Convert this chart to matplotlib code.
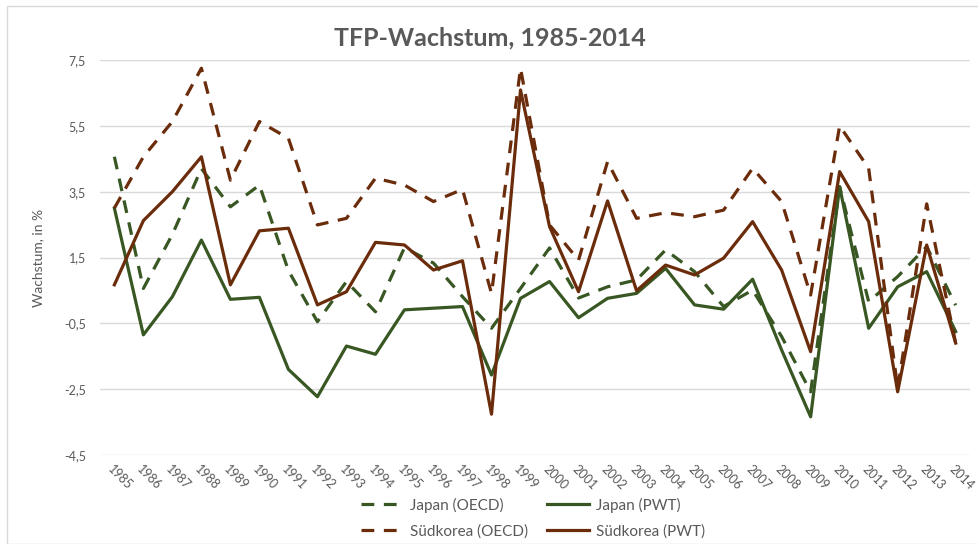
import matplotlib
matplotlib.use("Agg")

import matplotlib.pyplot as plt
from matplotlib.patches import Rectangle
from matplotlib.ticker import FuncFormatter

years = list(range(1985, 2015))

japan_oecd = [4.56, 0.56, 2.2, 4.2, 3.04, 3.7, 1.1, -0.45, 0.77, -0.15,
              1.8, 1.33, 0.31, -0.65, 0.56, 1.79, 0.27, 0.61, 0.82, 1.73,
              1.07, 0.01, 0.51, -0.9, -2.58, 3.65, 0.16, 0.92, 1.83, 0.05]
japan_pwt = [3.0, -0.85, 0.31, 2.03, 0.23, 0.29, -1.9, -2.73, -1.19, -1.44,
             -0.09, -0.04, 0.01, -2.07, 0.26, 0.77, -0.33, 0.26, 0.41, 1.17,
             0.06, -0.07, 0.84, -1.31, -3.34, 3.65, -0.65, 0.61, 1.07, -0.75]
korea_oecd = [3.0, 4.56, 5.63, 7.25, 3.85, 5.63, 5.12, 2.49, 2.69, 3.91,
              3.7, 3.2, 3.57, 0.41, 7.25, 2.49, 1.42, 4.41, 2.69, 2.86,
              2.74, 2.94, 4.21, 3.2, 0.36, 5.5, 4.21, -2.47, 3.13, -1.1]
korea_pwt = [0.67, 2.62, 3.5, 4.56, 0.67, 2.31, 2.39, 0.06, 0.46, 1.96,
             1.88, 1.12, 1.4, -3.26, 6.59, 2.44, 0.46, 3.22, 0.49, 1.27,
             0.97, 1.48, 2.59, 1.12, -1.36, 4.11, 2.59, -2.58, 1.88, -1.1]

GREEN = "#385723"
BROWN = "#6b2c0b"
GRAY = "#595959"

plt.rcParams["font.family"] = ["Lato", "DejaVu Sans"]

fig = plt.figure(figsize=(9.79, 5.44), dpi=100)
ax = fig.add_axes([0.102, 0.1636, 0.889, 0.7261])

# chart area border
fig.patches.append(Rectangle((7 / 979, 0), 1.0, 1 - 6 / 544, transform=fig.transFigure,
                             fill=False, edgecolor="#d9d9d9", linewidth=1.0))

x = list(range(len(years)))
dash = (0, (4, 3))
l1, = ax.plot(x, japan_oecd, color=GREEN, lw=2.3, linestyle=dash, label="Japan (OECD)")
l2, = ax.plot(x, japan_pwt, color=GREEN, lw=2.3, label="Japan (PWT)")
l3, = ax.plot(x, korea_oecd, color=BROWN, lw=2.3, linestyle=dash, label="Südkorea (OECD)")
l4, = ax.plot(x, korea_pwt, color=BROWN, lw=2.3, label="Südkorea (PWT)")

ax.set_xlim(-0.5, len(years) - 0.5)
ax.set_ylim(-4.5, 7.5)
ax.set_yticks([-4.5, -2.5, -0.5, 1.5, 3.5, 5.5, 7.5])
ax.yaxis.set_major_formatter(FuncFormatter(lambda v, p: f"{v:.1f}".replace(".", ",")))
ax.set_xticks(x)
ax.set_xticklabels([str(y) for y in years], rotation=-45, ha="left", va="top",
                   rotation_mode="anchor")
ax.tick_params(axis="both", length=0, colors=GRAY, labelsize=9)
ax.tick_params(axis="x", pad=6)
ax.tick_params(axis="y", pad=10)
ax.grid(axis="y", color="#d9d9d9", linewidth=1)
ax.set_axisbelow(True)
for s in ax.spines.values():
    s.set_visible(False)

ax.set_ylabel("Wachstum, in %", color=GRAY, fontsize=10, labelpad=14)
fig.text(0.5, 1 - 38 / 544, "TFP-Wachstum, 1985-2014", ha="center", va="center",
         fontsize=18, fontweight="bold", color=GRAY)

# legend fills column-wise, so order so rows read Japan / Südkorea
fig.legend([l1, l3, l2, l4], [l1.get_label(), l3.get_label(), l2.get_label(), l4.get_label()],
           loc="center", bbox_to_anchor=(533 / 979, 1 - 518 / 544), ncol=2, frameon=False,
           fontsize=11, handlelength=2.8, columnspacing=1.2, labelspacing=0.75,
           handletextpad=0.4, labelcolor=GRAY)

fig.savefig("out.png", dpi=100)
